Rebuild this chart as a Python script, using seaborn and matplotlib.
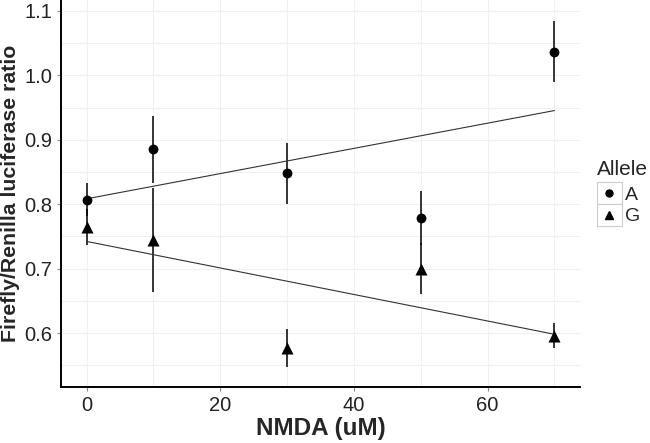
import numpy as np
import pandas as pd
import matplotlib
matplotlib.use("Agg")
import matplotlib.pyplot as plt
from matplotlib.lines import Line2D
from matplotlib.patches import Rectangle
from matplotlib.legend_handler import HandlerBase
import seaborn as sns

# Data
nmda = [0, 10, 30, 50, 70]
allele_a = [0.807, 0.885, 0.848, 0.778, 1.037]
allele_a_err = [0.026, 0.052, 0.047, 0.042, 0.048]
allele_g = [0.765, 0.744, 0.577, 0.700, 0.596]
allele_g_err = [0.028, 0.081, 0.030, 0.040, 0.019]

df = pd.DataFrame({
    "NMDA": nmda * 2,
    "ratio": allele_a + allele_g,
    "err": allele_a_err + allele_g_err,
    "Allele": ["A"] * 5 + ["G"] * 5,
})


class BoxedKey(HandlerBase):
    # ggplot-like legend key: marker inside a light grey box
    def create_artists(self, legend, orig_handle, xdescent, ydescent,
                       width, height, fontsize, trans):
        box = Rectangle((-xdescent, -ydescent), width, height, facecolor="white",
                        edgecolor="#cccccc", lw=0.8, transform=trans)
        mark = Line2D([-xdescent + width / 2], [-ydescent + height / 2],
                      marker=orig_handle.get_marker(), color="black", ls="none",
                      markersize=orig_handle.get_markersize(), transform=trans)
        return [box, mark]


sns.set_style("white")
plt.rcParams["font.family"] = ["Liberation Sans", "DejaVu Sans"]

fig = plt.figure(figsize=(6.5, 4.43), dpi=100)
ax = fig.add_axes([0.094, 0.126, 0.798, 0.874])

# faint ggplot-style grid (major + minor)
for xv in [0, 10, 20, 30, 40, 50, 60, 70]:
    ax.axvline(xv, color="#f0f0f0", lw=0.8, zorder=0)
for yv in np.arange(0.55, 1.11, 0.05):
    ax.axhline(yv, color="#f0f0f0", lw=0.8, zorder=0)

# error bars
ax.vlines(df["NMDA"], df["ratio"] - df["err"], df["ratio"] + df["err"],
          color="black", lw=1.1, zorder=2)

# linear fits per allele
for allele in ["A", "G"]:
    sub = df[df["Allele"] == allele]
    sns.regplot(data=sub, x="NMDA", y="ratio", ax=ax, scatter=False, ci=None,
                truncate=True, line_kws={"color": "#333333", "lw": 0.8, "zorder": 3})

# points
sns.scatterplot(data=df[df["Allele"] == "A"], x="NMDA", y="ratio", marker="o",
                color="black", s=50, linewidth=0, ax=ax, zorder=4, legend=False)
sns.scatterplot(data=df[df["Allele"] == "G"], x="NMDA", y="ratio", marker="^",
                color="black", s=75, linewidth=0, ax=ax, zorder=4, legend=False)

ax.set_xlim(-3.8, 73.8)
ax.set_ylim(0.516, 1.117)
ax.set_xticks([0, 20, 40, 60])
ax.set_yticks([0.6, 0.7, 0.8, 0.9, 1.0, 1.1])
ax.set_yticklabels(["0.6", "0.7", "0.8", "0.9", "1.0", "1.1"])
ax.tick_params(axis="both", labelsize=14.5, colors="#222222", length=3,
               width=0.8, direction="out", left=True, bottom=True)
ax.tick_params(axis="both", color="#888888")

ax.set_xlabel("NMDA (uM)", fontsize=17.5, fontweight="bold", labelpad=1)
ax.set_ylabel("Firefly/Renilla luciferase ratio", fontsize=15.3,
              fontweight="bold", labelpad=3)

for side in ["top", "right"]:
    ax.spines[side].set_visible(False)
for side in ["left", "bottom"]:
    ax.spines[side].set_color("black")
    ax.spines[side].set_linewidth(1.4)

handles = [
    Line2D([], [], marker="o", color="black", ls="none", markersize=5),
    Line2D([], [], marker="^", color="black", ls="none", markersize=6),
]
leg = fig.legend(handles, ["A", "G"], title="Allele", loc="upper left",
                 bbox_to_anchor=(0.918, 0.638), frameon=False, fontsize=14,
                 title_fontsize=15, handlelength=1.3, handleheight=1.35,
                 handletextpad=0.15, labelspacing=0.0, borderaxespad=0,
                 borderpad=0, handler_map={Line2D: BoxedKey()})
leg._legend_box.align = "left"
leg._legend_box.sep = 2

fig.savefig("out.png", dpi=100)
